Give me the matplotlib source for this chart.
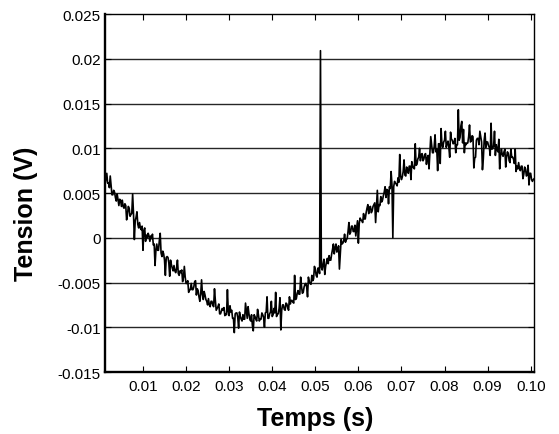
import matplotlib
matplotlib.use("Agg")
import matplotlib.pyplot as plt
import numpy as np

t_start = 0.0012
t_step = 0.0004
# samples at t_start + k * t_step
tension_e4 = [
    60, 72, 61, 69, 48, 53, 45, 49, 36, 42,
    42, 33, 36, 26, 33, 26, 49, -2, 23, 15,
    17, 9, -14, 11, 3, 5, -4, -1, -8, -31,
    -7, -14, 5, -21, -18, -42, -21, -28, -25, -34,
    -31, -39, -25, -42, -39, -49, -32, -51, -48, -58,
    -51, -58, -49, -64, -59, -71, -47, -69, -64, -71,
    -68, -77, -71, -77, -70, -79, -74, -85, -79, -78,
    -85, -58, -87, -83, -90, -106, -84, -89, -83, -91,
    -86, -91, -82, -77, -91, -86, -104, -88, -93, -86,
    -91, -84, -89, -84, -66, -90, -83, -88, -79, -61,
    -85, -79, -103, -75, -80, -73, -78, -66, -70, -72,
    -42, -68, -59, -63, -54, -61, -52, -55, -44, -51,
    -42, -46, -35, -44, -34, 209, -36, -24, -32, -23,
    -20, -25, -13, -18, -7, -14, -35, -2, -6, 4,
    -2, 7, 4, 13, 7, 14, 10, -6, 22, 19,
    27, 21, 33, 27, 35, 30, 37, 17, 53, 37,
    46, 42, 51, 45, 53, 57, 74, 0, 63, 60,
    67, 93, 65, 74, 70, 79, 72, 80, 85, 78,
    105, 82, 90, 86, 94, 88, 94, 89, 77, 113,
    95, 102, 96, 75, 105, 122, 101, 109, 101, 108,
    90, 110, 105, 111, 104, 143, 112, 130, 121, 106,
    106, 113, 107, 114, 78, 90, 111, 104, 113, 76,
    109, 101, 107, 101, 128, 100, 119, 104, 96, 77,
    99, 91, 99, 90, 94, 84, 90, 88, 99, 80,
    84, 75, 80, 71, 77, 70, 59, 72, 63, 66,
]
# samples half a step later, at t_start + (k + 0.5) * t_step
tension_mid_e4 = [
    66, 61, 56, 58, 48, 51, 41, 43, 43, 35,
    35, 38, 20, 35, 24, 27, 27, 19, 29, 11,
    11, 13, 8, -4, 0, 2, 2, 4, -7, -14,
    -14, -3, -17, -15, -25, -22, -22, -43, -30, -37,
    -37, -34, -40, -37, -36, -44, -44, -51, -61, -58,
    -58, -55, -48, -57, -66, -63, -63, -60, -69, -75,
    -75, -71, -75, -57, -81, -77, -85, -82, -81, -87,
    -86, -82, -76, -81, -90, -85, -84, -101, -88, -93,
    -91, -73, -90, -85, -93, -98, -86, -91, -80, -93,
    -91, -86, -100, -83, -90, -85, -71, -86, -84, -88,
    -85, -67, -81, -75, -81, -74, -81, -74, -70, -73,
    -69, -62, -63, -44, -62, -55, -51, -66, -49, -52,
    -48, -32, -42, -34, -40, -33, -29, -41, -27, -29,
    -25, -18, -7, -11, -16, -9, -19, -7, -3, -5,
    -1, 17, 6, 13, 7, 2, 19, 16, 20, 17,
    21, 28, 37, 34, 28, 35, 39, 36, 29, 36,
    40, 47, 57, 54, 38, 55, 59, 57, 61, 58,
    62, 69, 68, 87, 69, 76, 80, 65, 80, 77,
    81, 88, 100, 93, 86, 93, 82, 92, 96, 104,
    95, 115, 99, 105, 83, 104, 107, 119, 105, 101,
    118, 109, 106, 95, 104, 109, 125, 106, 95, 104,
    106, 126, 108, 113, 89, 109, 111, 119, 107, 88,
    117, 107, 103, 92, 99, 103, 92, 98, 110, 92,
    93, 96, 79, 96, 86, 99, 90, 83, 74, 77,
    77, 80, 66, 79, 69, 81, 72, 65, 65,
]

x_ticks = [0.01, 0.02, 0.03, 0.04, 0.05, 0.06, 0.07, 0.08, 0.09, 0.10]
y_ticks = [-0.015, -0.01, -0.005, 0, 0.005, 0.01, 0.015, 0.02, 0.025]
y_tick_labels = ["-0.015", "-0.01", "-0.005", "0", "0.005", "0.01", "0.015", "0.02", "0.025"]

plt.rcParams["font.family"] = ["Liberation Sans", "DejaVu Sans"]

n = len(tension_e4)
temps = np.empty(2 * n - 1)
tension = np.empty(2 * n - 1)
temps[0::2] = t_start + t_step * np.arange(n)
temps[1::2] = t_start + t_step * (np.arange(n - 1) + 0.5)
tension[0::2] = np.array(tension_e4) * 1e-4
tension[1::2] = np.array(tension_mid_e4) * 1e-4

fig = plt.figure(figsize=(5.59, 4.35), dpi=100)
ax = fig.add_axes([0.1878, 0.1425, 0.7675, 0.8230])

for y in y_ticks[1:-1]:
    ax.axhline(y, color="0.15", lw=1.0, zorder=1)

ax.plot(temps, tension, color="black", lw=1.2, zorder=2)

ax.set_xlim(0.00118, 0.10077)
ax.set_ylim(-0.015, 0.025)
ax.set_xticks(x_ticks)
ax.set_xticklabels(["%.2f" % v for v in x_ticks])
ax.set_yticks(y_ticks)
ax.set_yticklabels(y_tick_labels)

ax.tick_params(axis="x", direction="in", length=4, width=0.8, top=True,
               labelsize=11, pad=5)
ax.tick_params(axis="y", direction="in", length=4, width=0.8, right=True,
               labelsize=11, pad=3)

for side in ["bottom", "left"]:
    ax.spines[side].set_linewidth(1.7)
for side in ["top", "right"]:
    ax.spines[side].set_linewidth(1.0)

ax.set_xlabel("Temps (s)", fontsize=18, fontweight="bold")
ax.xaxis.set_label_coords(0.49, -0.128)
ax.xaxis.label.set_va("center")
ax.set_ylabel("Tension (V)", fontsize=18, fontweight="bold")
ax.yaxis.set_label_coords(-0.184, 0.444)
ax.yaxis.label.set_va("center")

fig.savefig("out.png", dpi=100)
